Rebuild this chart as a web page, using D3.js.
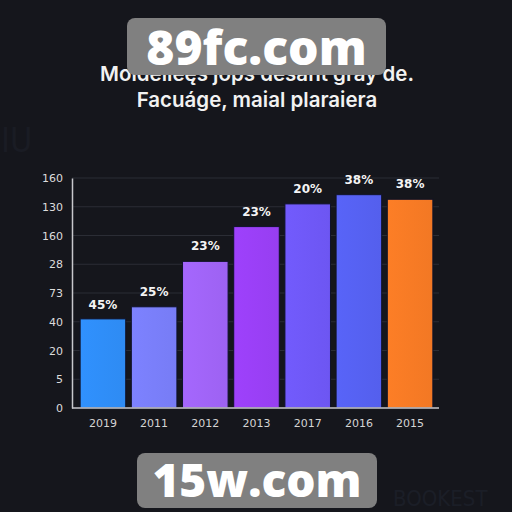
<!DOCTYPE html>
<html>
<head>
<meta charset="utf-8">
<script src="https://cdn.jsdelivr.net/npm/d3@7"></script>
<style>
  html, body { margin: 0; padding: 0; background: #15161c; }
  svg { display: block; }
</style>
</head>
<body>
<div class="canvas"></div>
<script>
// chart data (values are read in grid steps of the y axis)
const years = ['2019', '2011', '2012', '2013', '2017', '2016', '2015'];
const values = [3.10, 3.52, 5.10, 6.31, 7.10, 7.42, 7.26];
const barLabels = ['45%', '25%', '23%', '23%', '20%', '38%', '38%'];
const yTickLabels = ['0', '5', '20', '40', '73', '28', '160', '130', '160'];
const titleLines = ['Moidelleęs jops desant gray de.', 'Facuáge, maial plaraiera'];

const barColors = ['#2f8df7', '#797ef9', '#a064f6', '#9a3ff5', '#6f58f6', '#5661f1', '#f67a25'];

const dims = { width: 512, height: 512 };

const svg = d3.select('.canvas')
  .append('svg')
  .attr('width', dims.width)
  .attr('height', dims.height);

svg.append('rect')
  .attr('width', dims.width)
  .attr('height', dims.height)
  .attr('fill', '#15161c');

// faint background lettering
svg.append('text')
  .attr('x', 393).attr('y', 506)
  .attr('fill', '#1b1e27')
  .attr('font-family', 'DejaVu Sans Condensed, DejaVu Sans')
  .attr('font-size', 22)
  .text('BOOKEST');

svg.append('text')
  .attr('x', 1).attr('y', 152)
  .attr('fill', '#1a1c24')
  .attr('font-family', 'DejaVu Sans Condensed, DejaVu Sans')
  .attr('font-size', 34)
  .text('IU');

// title
svg.selectAll('.title')
  .data(titleLines)
  .enter().append('text')
  .attr('class', 'title')
  .attr('x', 257)
  .attr('y', (d, i) => 81 + i * 26)
  .attr('text-anchor', 'middle')
  .attr('fill', '#f2f2f2')
  .attr('font-family', 'Inter, Roboto, sans-serif')
  .attr('font-weight', 600)
  .attr('font-size', 20.5)
  .text(d => d);

// scales
const x = d3.scaleBand()
  .domain(years)
  .range([74, 439])
  .paddingInner(0.11)
  .paddingOuter(0.12);

const y = d3.scaleLinear()
  .domain([0, yTickLabels.length - 1])
  .range([408, 178]);

const graph = svg.append('g');

// gridlines
graph.selectAll('.grid')
  .data(d3.range(1, yTickLabels.length))
  .enter().append('line')
  .attr('class', 'grid')
  .attr('x1', 72).attr('x2', 439)
  .attr('y1', d => y(d)).attr('y2', d => y(d))
  .attr('stroke', '#2b2d35')
  .attr('stroke-width', 1);

// y axis
const yAxis = d3.axisLeft(y)
  .tickValues(d3.range(yTickLabels.length))
  .tickFormat(i => yTickLabels[i])
  .tickSize(0)
  .tickPadding(9);

const yG = graph.append('g')
  .attr('transform', 'translate(72,0)')
  .call(yAxis);
yG.select('.domain').attr('stroke', '#c8c8cc').attr('stroke-width', 1.5);
yG.selectAll('text')
  .attr('fill', '#dcdcdc')
  .attr('font-family', 'DejaVu Sans, sans-serif')
  .attr('font-size', 11);

// bars
const defs = svg.append('defs');
barColors.forEach((c, i) => {
  const g = defs.append('linearGradient')
    .attr('id', 'bar' + i)
    .attr('x1', 0).attr('x2', 1).attr('y1', 0).attr('y2', 0);
  g.append('stop').attr('offset', '0%').attr('stop-color', d3.color(c).brighter(0.08));
  g.append('stop').attr('offset', '100%').attr('stop-color', d3.color(c).darker(0.05));
});

graph.selectAll('.bar')
  .data(values)
  .enter().append('rect')
  .attr('class', 'bar')
  .attr('x', (d, i) => x(years[i]))
  .attr('y', d => y(d))
  .attr('width', x.bandwidth())
  .attr('height', d => y(0) - y(d))
  .attr('fill', (d, i) => `url(#bar${i})`)
  .attr('stroke', '#10132a')
  .attr('stroke-width', 1);

// bar labels
graph.selectAll('.bar-label')
  .data(values)
  .enter().append('text')
  .attr('class', 'bar-label')
  .attr('x', (d, i) => x(years[i]) + x.bandwidth() / 2)
  .attr('y', (d, i) => y(d) - (i === 0 ? 10 : 11))
  .attr('text-anchor', 'middle')
  .attr('fill', '#f4f4f4')
  .attr('font-family', 'DejaVu Sans, sans-serif')
  .attr('font-weight', 'bold')
  .attr('font-size', 12)
  .text((d, i) => barLabels[i]);

// x axis
const xAxis = d3.axisBottom(x).tickSize(0).tickPadding(11);
const xG = graph.append('g')
  .attr('transform', 'translate(0,408)')
  .call(xAxis);
xG.select('.domain')
  .attr('d', 'M72,0H439')
  .attr('stroke', '#c8c8cc').attr('stroke-width', 1.5);
xG.selectAll('text')
  .attr('fill', '#d4d4d4')
  .attr('font-family', 'DejaVu Sans, sans-serif')
  .attr('font-size', 11);

// watermark badges
const badges = [
  { text: '89fc.com', x: 127, y: 18, w: 259, h: 57, size: 48, base: 65 },
  { text: '15w.com', x: 137, y: 453, w: 240, h: 55, size: 46, base: 497 }
];
const badgeG = svg.selectAll('.badge')
  .data(badges)
  .enter().append('g')
  .attr('class', 'badge');
badgeG.append('rect')
  .attr('x', d => d.x).attr('y', d => d.y)
  .attr('width', d => d.w).attr('height', d => d.h)
  .attr('rx', 8)
  .attr('fill', '#808080');
badgeG.append('text')
  .attr('x', d => d.x + d.w / 2)
  .attr('y', d => d.base)
  .attr('text-anchor', 'middle')
  .attr('fill', '#ffffff')
  .attr('font-family', 'Open Sans, sans-serif')
  .attr('font-weight', 800)
  .attr('font-size', d => d.size)
  .text(d => d.text);
</script>
</body>
</html>
